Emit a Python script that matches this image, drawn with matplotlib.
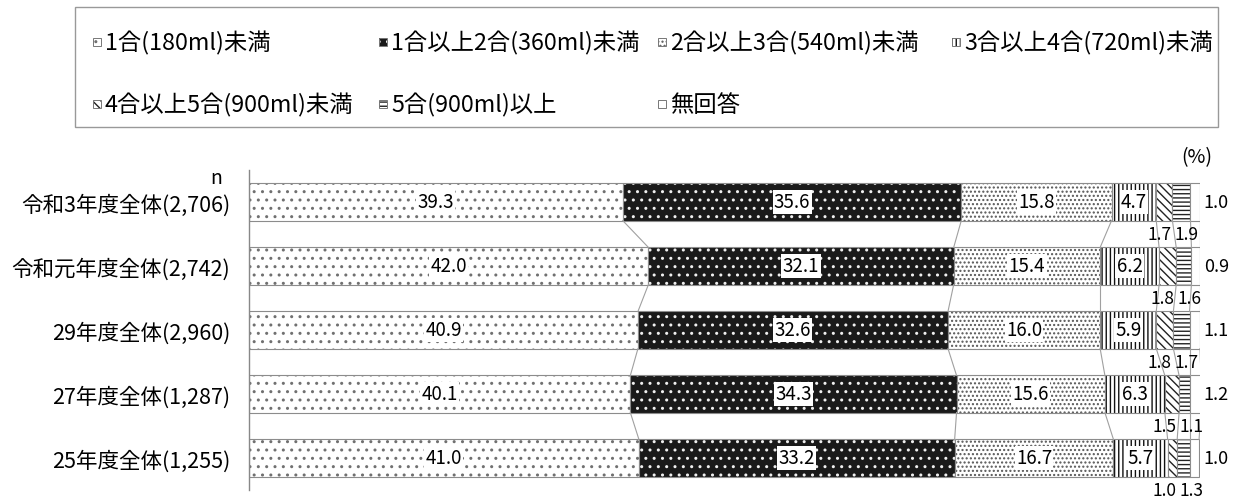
import matplotlib
matplotlib.use('Agg')
import matplotlib.pyplot as plt
from matplotlib.patches import Rectangle
import numpy as np

plt.rcParams['font.family'] = ['Noto Sans CJK JP', 'DejaVu Sans']
plt.rcParams['hatch.linewidth'] = 1.0

# ---------------- data ----------------
categories = ['令和3年度全体(2,706)', '令和元年度全体(2,742)', '29年度全体(2,960)',
              '27年度全体(1,287)', '25年度全体(1,255)']
series_names = ['1合(180ml)未満', '1合以上2合(360ml)未満', '2合以上3合(540ml)未満',
                '3合以上4合(720ml)未満', '4合以上5合(900ml)未満', '5合(900ml)以上', '無回答']
s1 = [39.3, 42.0, 40.9, 40.1, 41.0]
s2 = [35.6, 32.1, 32.6, 34.3, 33.2]
s3 = [15.8, 15.4, 16.0, 15.6, 16.7]
s4 = [4.7, 6.2, 5.9, 6.3, 5.7]
s5 = [1.7, 1.8, 1.8, 1.5, 1.0]
s6 = [1.9, 1.6, 1.7, 1.1, 1.3]
s7 = [1.0, 0.9, 1.1, 1.2, 1.0]
series = [s1, s2, s3, s4, s5, s6, s7]

# ---------------- styles ----------------
faces = ['white', '#1a1a1a', 'white', 'white', 'white', 'white', 'white']
hatch_colors = ['#707070', '#f0f0f0', '#555555', '#111111', '#222222', '#222222', 'white']
hatches = ['..', '..', '....', '||||', '\\\\\\\\', '----', None]
outline = '#8c8c8c'
bar_h = 0.58

W, H = 1238, 502
fig = plt.figure(figsize=(W / 100, H / 100), dpi=100)
ax = fig.add_axes([249 / W, 1 - 491 / H, (1200 - 249) / W, 320 / H])

y = np.arange(len(categories))
left = np.zeros(len(categories))
for k, vals in enumerate(series):
    vals = np.array(vals)
    ax.barh(y, vals, left=left, height=bar_h, color=faces[k], hatch=hatches[k],
            edgecolor=hatch_colors[k], linewidth=0)
    ax.barh(y, vals, left=left, height=bar_h, fill=False, edgecolor=outline, linewidth=0.8)
    left = left + vals

cum = np.cumsum(np.array(series), axis=0)
starts = cum - np.array(series)

# connector lines
for i in range(len(categories) - 1):
    for k in range(len(series)):
        ax.plot([cum[k, i], cum[k, i + 1]], [i + bar_h / 2, i + 1 - bar_h / 2],
                color='#a0a0a0', lw=0.8, zorder=1)

# labels inside bars
for k in range(4):
    for i in range(len(categories)):
        v = series[k][i]
        c = starts[k, i] + v / 2
        ax.text(c, i, f'{v:.1f}', ha='center', va='center', fontsize=13.5,
                bbox=dict(facecolor='white', edgecolor='none', pad=1.0), zorder=5)

# small labels below bars
min_sep = 2.8
for i in range(len(categories)):
    c4 = starts[4, i] + series[4][i] / 2
    c5 = starts[5, i] + series[5][i] / 2
    if c5 - c4 < min_sep:
        m = (c4 + c5) / 2
        c4, c5 = m - min_sep / 2, m + min_sep / 2
    ax.text(c4, i + 0.5, f'{series[4][i]:.1f}', ha='center', va='center', fontsize=12.5,
            clip_on=False, zorder=5)
    ax.text(c5, i + 0.5, f'{series[5][i]:.1f}', ha='center', va='center', fontsize=12.5,
            clip_on=False, zorder=5)
    ax.text(100.4, i, f'{series[6][i]:.1f}', ha='left', va='center', fontsize=13,
            clip_on=False)

ax.set_xlim(0, 100)
ax.set_ylim(len(categories) - 0.5, -0.5)
ax.set_xticks([])
ax.set_yticks(y, categories, fontsize=15.5)
ax.tick_params(axis='y', length=0, pad=13.5)
for s in ['top', 'right', 'bottom']:
    ax.spines[s].set_visible(False)
ax.spines['left'].set_color('#888888')
ax.spines['left'].set_linewidth(1.0)

fig.text(216 / W, 1 - 179 / H, 'n', ha='center', va='center', fontsize=14)
fig.text(1197 / W, 1 - 158 / H, '(%)', ha='center', va='center', fontsize=14)

# legend (manual)
fig.patches.append(Rectangle((75 / W, 1 - 128 / H), (1218 - 75) / W, 120 / H,
                             transform=fig.transFigure, facecolor='white',
                             edgecolor='#999999', linewidth=1.0, zorder=0))
col_x = [93, 379, 658, 952]
row_y = [43, 105]
sq = 8
for k, name in enumerate(series_names):
    r, c = divmod(k, 4)
    hx, hy = col_x[c], row_y[r]
    fig.patches.append(Rectangle((hx / W, 1 - (hy + sq / 2) / H), sq / W, sq / H,
                                 transform=fig.transFigure, facecolor=faces[k],
                                 hatch=hatches[k], edgecolor=hatch_colors[k],
                                 linewidth=0, zorder=2))
    fig.patches.append(Rectangle((hx / W, 1 - (hy + sq / 2) / H), sq / W, sq / H,
                                 transform=fig.transFigure, fill=False,
                                 edgecolor='#777777', linewidth=0.7, zorder=3))
    fig.text((hx + sq + 4) / W, 1 - hy / H, name, ha='left', va='center', fontsize=16.8)

fig.savefig('out.png', dpi=100)
